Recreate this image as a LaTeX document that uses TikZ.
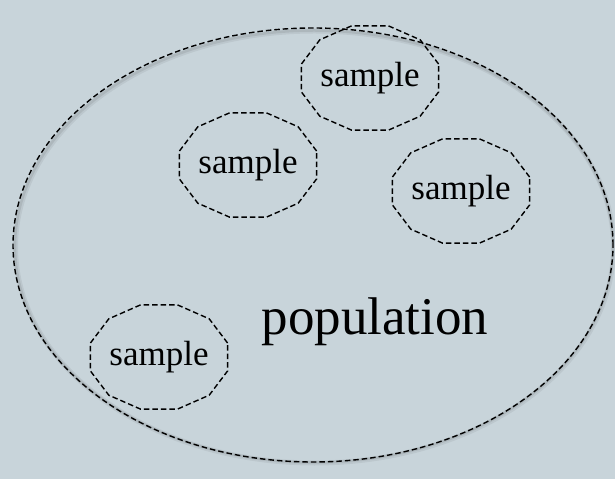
\documentclass[tikz,border=0pt]{standalone}
\usepackage{fontspec}
\setmainfont{Liberation Serif}
\definecolor{bg}{RGB}{200,212,218}
\begin{document}
\begin{tikzpicture}[x=1pt,y=1pt,
  dashline/.style={draw=black,line width=1.4pt,dash pattern=on 5.5pt off 3pt},
  samp/.style={font=\fontsize{35}{35}\selectfont,inner sep=0pt},
  popl/.style={font=\fontsize{53}{53}\selectfont,inner sep=0pt}]
\fill[bg] (0,0) rectangle (615,479);
\useasboundingbox (0,0) rectangle (615,479);
% population ellipse with soft shadow
\coordinate (pc) at (313,234);
\draw[black,opacity=0.06,line width=5pt] ([shift={(1.5,-2)}]pc) ellipse (299 and 216);
\draw[black,opacity=0.08,line width=2.5pt] ([shift={(1,-1.5)}]pc) ellipse (299 and 216);
\draw[dashline] (pc) ellipse (300 and 217);
\node[popl] (pop) at (375,157) {population};
% samples
\node[samp] (s1) at (370,401) {sample};
\node[samp] (s2) at (248,314) {sample};
\node[samp] (s3) at (461,288) {sample};
\node[samp] (s4) at (159,122) {sample};
\foreach \s in {s1,s2,s3,s4}{
  \draw[dashline,shift={(\s.center)}]
    (15:71 and 54) -- (45:71 and 54) -- (75:71 and 54) -- (105:71 and 54) --
    (135:71 and 54) -- (165:71 and 54) -- (195:71 and 54) -- (225:71 and 54) --
    (255:71 and 54) -- (285:71 and 54) -- (315:71 and 54) -- (345:71 and 54) -- cycle;
}
\end{tikzpicture}
\end{document}
